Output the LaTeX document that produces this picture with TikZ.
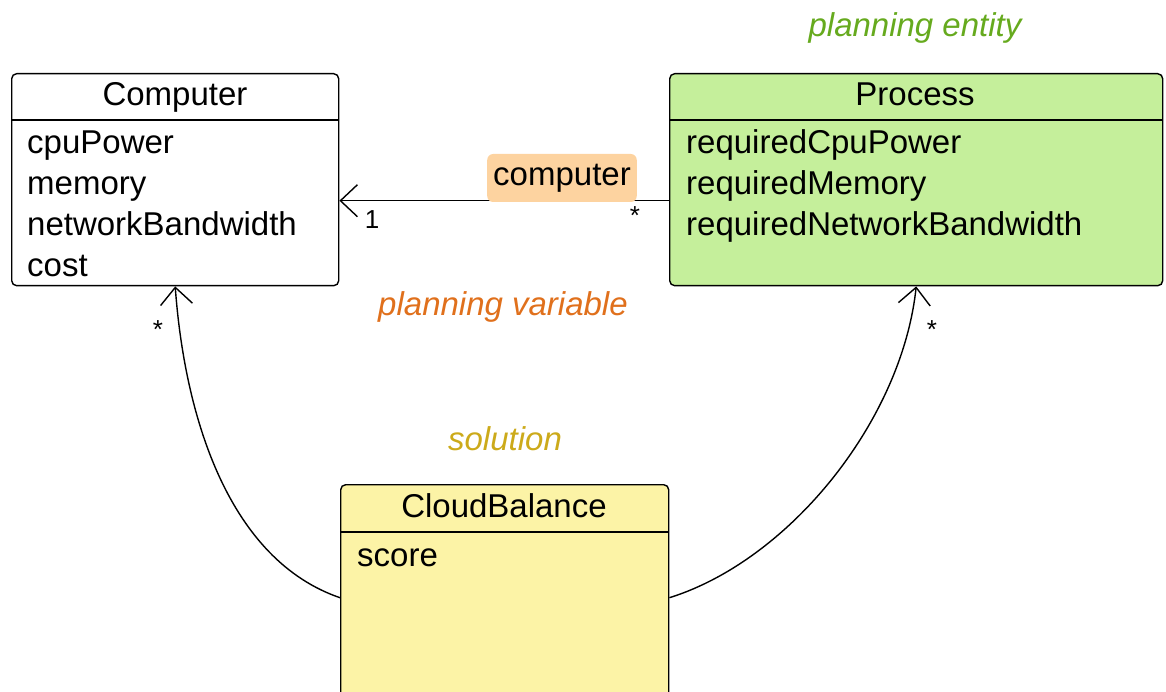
\documentclass[tikz,border=0pt]{standalone}
\usepackage{fontspec}
\setmainfont{Liberation Sans}
\usetikzlibrary{arrows.meta, positioning}
\definecolor{entitygreen}{HTML}{C5EF9B}
\definecolor{solutionyellow}{HTML}{FCF3A6}
\definecolor{roleorange}{HTML}{FDD3A0}
\definecolor{notegreen}{HTML}{66AA1E}
\definecolor{noteorange}{HTML}{E0701C}
\definecolor{notegold}{HTML}{CCAA1A}

\begin{document}
\begin{tikzpicture}[x=1pt, y=-1pt,
  every node/.append style = {font=\fontsize{33}{41}\selectfont},
  umlbox/.style  = {draw, rounded corners=5pt, line width=1.4pt, anchor=north west, inner sep=0pt},
  title/.style   = {anchor=base, inner sep=0pt},
  attr/.style    = {anchor=base west, inner sep=0pt},
  mult/.style    = {font=\fontsize{26}{30}\selectfont, inner sep=0pt},
  note/.style    = {font=\fontsize{33}{40}\selectfont\itshape, inner sep=0pt},
  assoc/.style   = {line width=1.4pt, -{Straight Barb[length=17pt, width=32pt, line width=1.4pt]}}]

\useasboundingbox (0,0) rectangle (1166,692);

% the three classes
\node[umlbox, minimum width=327pt, minimum height=212pt] (comp) at (11,73) {};
\node[umlbox, minimum width=493pt, minimum height=212pt, fill=entitygreen] (proc) at (669,73) {};
\node[umlbox, minimum width=328pt, minimum height=214pt, fill=solutionyellow] (cb) at (340,484) {};

% header lines
\draw[line width=1.4pt] ([yshift=-47pt]comp.north west) -- ([yshift=-47pt]comp.north east);
\draw[line width=1.4pt] ([yshift=-47pt]proc.north west) -- ([yshift=-47pt]proc.north east);
\draw[line width=1.4pt] ([yshift=-48pt]cb.north west) -- ([yshift=-48pt]cb.north east);

% class names
\node[title] (compname) at (175,106) {Computer};
\node[title] (procname) at (915,106) {Process};
\node[title] (cbname) at (504,517) {CloudBalance};

% attributes
\foreach \attr [count=\i] in {cpuPower, memory, networkBandwidth, cost}
  \node[attr] (comp\i) at (27,{154+41*(\i-1)}) {\attr};
\foreach \attr [count=\i] in {requiredCpuPower, requiredMemory, requiredNetworkBandwidth}
  \node[attr] (proc\i) at (686,{154+41*(\i-1)}) {\attr};
\node[attr] (cb1) at (357,566) {score};

%--------------------------------- associations ---------------------------------
\draw[assoc] ([yshift=-21pt]proc.west) -- ([yshift=-21pt]comp.east);
\node[fill=roleorange, rounded corners=6pt, inner xsep=6pt, text height=23pt, text depth=7pt,
      minimum height=48pt] (role) at (562,178) {computer};
\node[mult] (m1) at (372,220) {1};
\node[mult] (m2) at (635,216) {*};

\draw[assoc] ([yshift=-6pt]cb.west) .. controls (230,560) and (185,420) .. (comp.south);
\draw[assoc] ([yshift=-6pt]cb.east) .. controls (790,560) and (902,420) .. (proc.south);
\node[mult] (m3) at (158,330) {*};
\node[mult] (m4) at (932,330) {*};

% notes
\node[note, text=notegreen] (entity) at (915,28) {planning entity};
\node[note, text=noteorange] (variable) at (503,307) {planning variable};
\node[note, text=notegold] (solution) at (505,439) {solution};

\end{tikzpicture}
\end{document}
